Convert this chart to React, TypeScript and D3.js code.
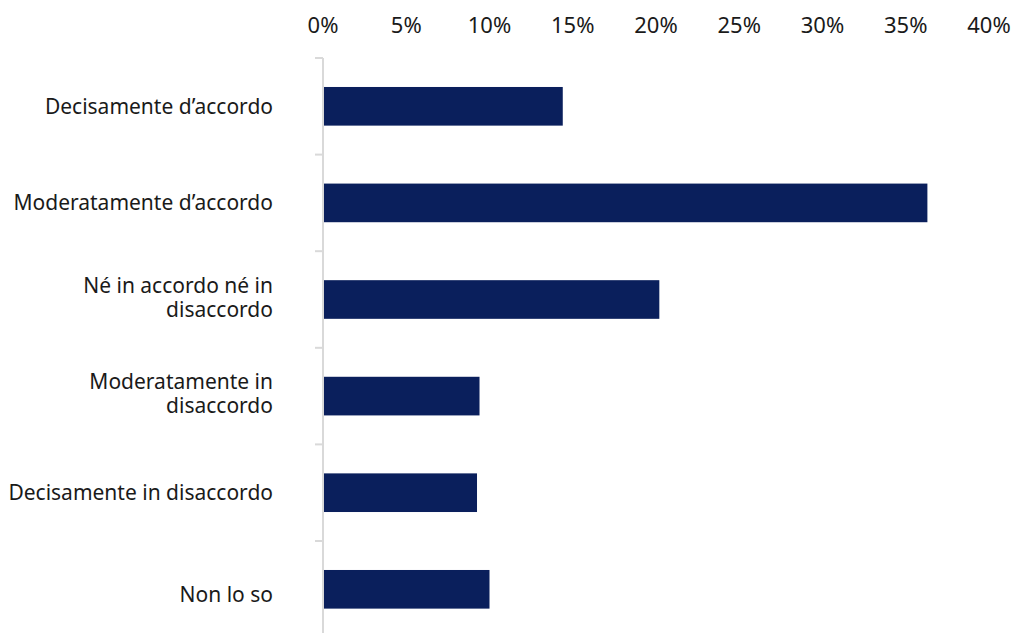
import React from "react";
import * as d3 from "d3";

const categories = [
  "Decisamente d’accordo",
  "Moderatamente d’accordo",
  "Né in accordo né in disaccordo",
  "Moderatamente in disaccordo",
  "Decisamente in disaccordo",
  "Non lo so",
];
const labelLines = [
  ["Decisamente d’accordo"],
  ["Moderatamente d’accordo"],
  ["Né in accordo né in", "disaccordo"],
  ["Moderatamente in", "disaccordo"],
  ["Decisamente in disaccordo"],
  ["Non lo so"],
];
const values = [14.4, 36.3, 20.2, 9.4, 9.25, 10.0];
const ticks = [0, 5, 10, 15, 20, 25, 30, 35, 40];

export default function App() {
  const W = 1012, H = 633;
  const x = d3.scaleLinear().domain([0, 40]).range([323, 989]);
  const y = d3.scaleBand<string>().domain(categories).range([58, 58 + 6 * 96.6]).paddingInner(0.6).paddingOuter(0.3);
  const band = d3.scaleBand<string>().domain(categories).range([58, 58 + 6 * 96.6]);
  const font = "'Noto Sans', sans-serif";
  const labelShift = (i: number) => (i === categories.length - 1 ? 5 : -0.5);
  return (
    <svg width={W} height={H} style={{ position: "absolute", left: 0, top: 0 }}>
      <rect width={W} height={H} fill="#fff" />
      {ticks.map((t) => (
        <text key={t} x={x(t)} y={24} textAnchor="middle" dominantBaseline="central" fontFamily={font} fontSize={22} fill="#1a1a1a">
          {t}%
        </text>
      ))}
      <line x1={323} x2={323} y1={58} y2={H} stroke="#d9d9d9" strokeWidth={2} />
      {categories.map((c) => (
        <line key={c} x1={315} x2={323} y1={band(c)!} y2={band(c)!} stroke="#d9d9d9" strokeWidth={2} />
      ))}
      {categories.map((c, i) => (
        <rect key={c} x={x(0) + 1} y={y(c)!} width={x(values[i]) - x(0) - 1} height={y.bandwidth()} fill="#0a1f5c" />
      ))}
      {categories.map((c, i) => {
        const lines = labelLines[i];
        const cy = band(c)! + band.bandwidth() / 2 + labelShift(i) - (lines.length > 1 ? 2.5 : 0);
        const lh = 24;
        return (
          <text key={c} textAnchor="end" fontFamily={font} fontSize={21} fill="#1a1a1a">
            {lines.map((l, j) => (
              <tspan key={j} x={273} y={cy + (j - (lines.length - 1) / 2) * lh} dominantBaseline="central">
                {l}
              </tspan>
            ))}
          </text>
        );
      })}
    </svg>
  );
}
